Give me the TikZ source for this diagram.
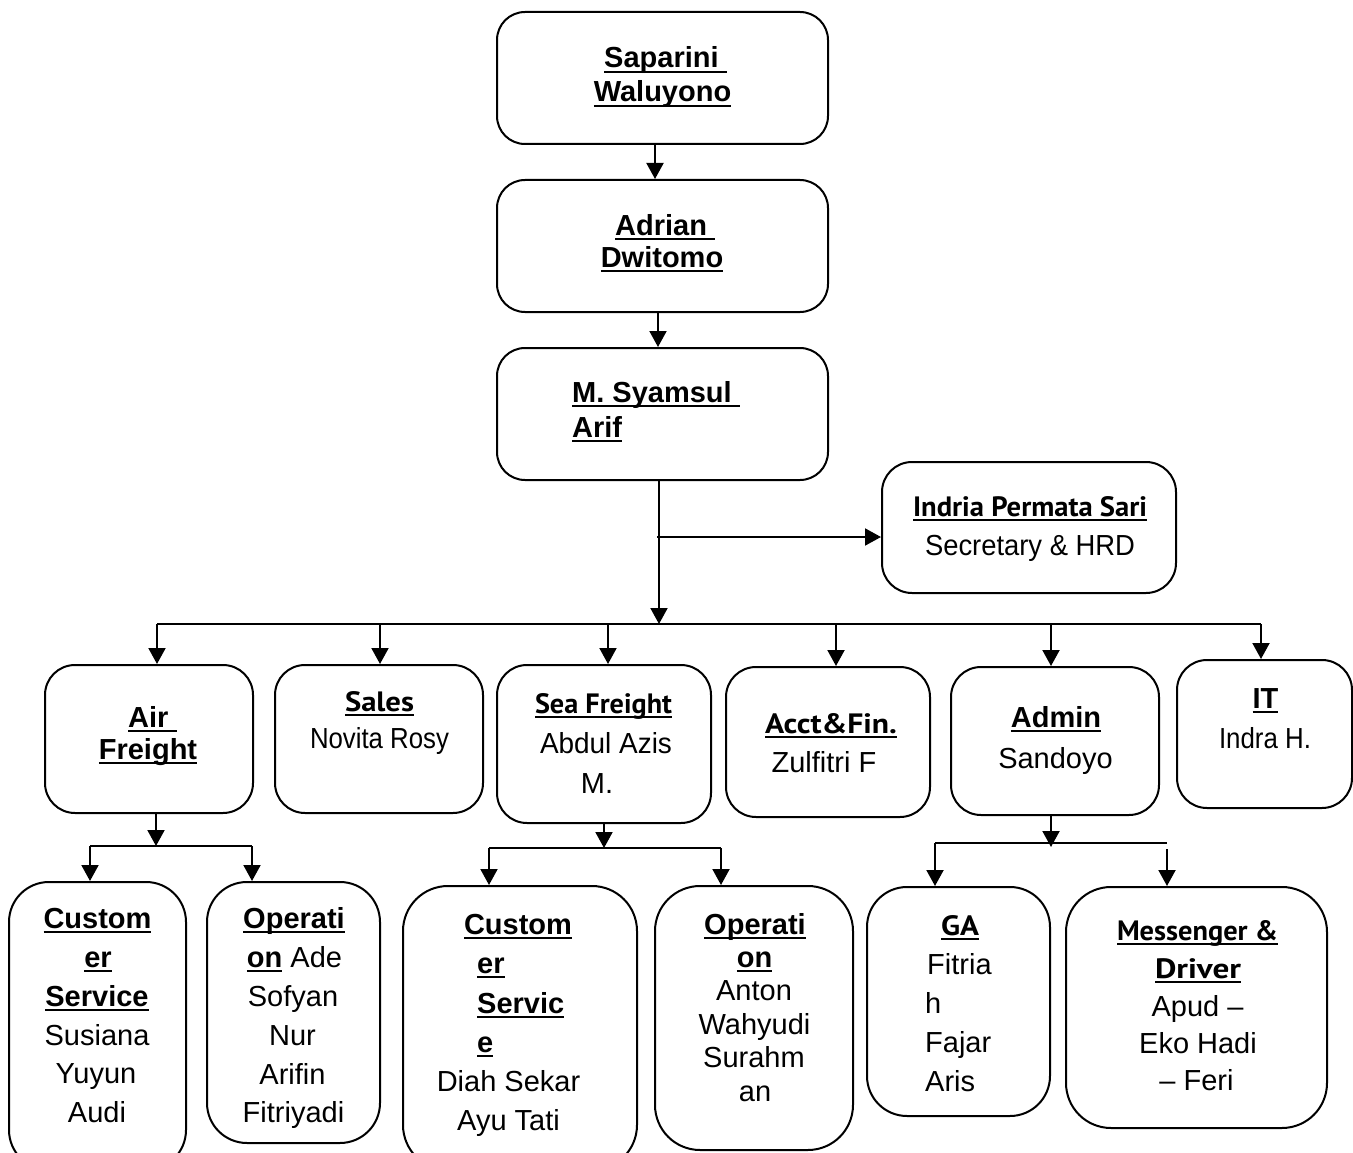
\documentclass[tikz,border=0pt]{standalone}
\usepackage{fontspec}
\usepackage{graphicx}
\setmainfont{Liberation Sans}
\newfontfamily\ptsans{PT Sans}
\usetikzlibrary{arrows.meta,calc}
\newsavebox\ulbox
\newsavebox\fitbox
\newcommand\myul[1]{\sbox\ulbox{#1}\rlap{\rule[-5.4pt]{\wd\ulbox}{2.8pt}}\usebox\ulbox}
\newcommand\fitto[2]{\sbox\fitbox{#2}\pgfmathsetmacro\fitsc{#1/\the\wd\fitbox}\scalebox{\fitsc}[1]{\usebox\fitbox}}
\newcommand\hdfont{\fontsize{28}{32}\selectfont\ptsans\bfseries}
\newcommand\tline[5]{\node[tx,anchor=#2] (#1) at (#3,#4) {#5};}
\tikzset{
  bx/.style={draw=black, line width=2pt, inner sep=0pt, fill=white},
  tx/.style={inner sep=0pt, font=\fontsize{29}{34}\selectfont},
  arr/.style={line width=2pt, -{Triangle[length=16pt,width=17pt]}},
  ln/.style={line width=2pt}
}
\begin{document}
\begin{tikzpicture}[x=1pt,y=-1pt]
\useasboundingbox (0,0) rectangle (1353,1153);
\clip (0,0) rectangle (1353,1153);
\fill[white] (0,0) rectangle (1353,1153);
% boxes
\node[bx, rounded corners=28pt, minimum width=331pt, minimum height=132pt] (b1) at (662.5,78) {};
\node[bx, rounded corners=28pt, minimum width=331pt, minimum height=132pt] (b2) at (662.5,246) {};
\node[bx, rounded corners=28pt, minimum width=331pt, minimum height=132pt] (b3) at (662.5,414) {};
\node[bx, rounded corners=30pt, minimum width=294pt, minimum height=131pt] (sec) at (1029,527.5) {};
\node[bx, rounded corners=30pt, minimum width=208pt, minimum height=148pt] (air) at (149,739) {};
\node[bx, rounded corners=30pt, minimum width=208pt, minimum height=148pt] (sal) at (379,739) {};
\node[bx, rounded corners=30pt, minimum width=214pt, minimum height=158pt] (sea) at (604,744) {};
\node[bx, rounded corners=30pt, minimum width=204pt, minimum height=150pt] (acc) at (828,742) {};
\node[bx, rounded corners=30pt, minimum width=208pt, minimum height=148pt] (adm) at (1055,741) {};
\node[bx, rounded corners=30pt, minimum width=175pt, minimum height=148pt] (it) at (1264.5,734) {};
\node[bx, rounded corners=40pt, minimum width=177pt, minimum height=288pt] (cs1) at (97.5,1026) {};
\node[bx, rounded corners=40pt, minimum width=173pt, minimum height=261pt] (op1) at (293.5,1012.5) {};
\node[bx, rounded corners=45pt, minimum width=234pt, minimum height=284pt] (cs2) at (520,1028) {};
\node[bx, rounded corners=45pt, minimum width=198pt, minimum height=264pt] (op2) at (754,1018) {};
\node[bx, rounded corners=40pt, minimum width=183pt, minimum height=229pt] (ga) at (958.5,1001.5) {};
\node[bx, rounded corners=45pt, minimum width=261pt, minimum height=241pt] (msg) at (1196.5,1007.5) {};
% connector coordinates
\coordinate (x12) at (655,0);
\coordinate (x23) at (658,0);
\coordinate (xm) at (659,0);
\coordinate (busC) at (659,624);
\coordinate (brS) at (657,537);
\coordinate (busL) at (157,624);
\coordinate (busR) at (1261,624);
\coordinate (dAir) at (157,624);
\coordinate (dSal) at (380,624);
\coordinate (dSea) at (608,624);
\coordinate (dAcc) at (836,624);
\coordinate (dAdm) at (1051,624);
\coordinate (dIt) at (1261,624);
\coordinate (sbA) at (156,846);
\coordinate (sbAL) at (90,846);
\coordinate (sbAR) at (252,846);
\coordinate (sbS) at (604,848);
\coordinate (sbSL) at (489,848);
\coordinate (sbSR) at (721,848);
\coordinate (sbD) at (1051,847);
\coordinate (sbDL) at (935,843);
\coordinate (sbDR) at (1167,843);
\coordinate (sbDR2) at (1167,849);
% connectors
\draw[arr] (b1.south -| x12) -- (b2.north -| x12);
\draw[arr] (b2.south -| x23) -- (b3.north -| x23);
\draw[arr] (b3.south -| xm) -- (busC);
\draw[arr] (brS) -- (brS -| sec.west);
\draw[ln] (busL) -- (busR);
\draw[arr] (dAir) -- (dAir |- air.north);
\draw[arr] (dSal) -- (dSal |- sal.north);
\draw[arr] (dSea) -- (dSea |- sea.north);
\draw[arr] (dAcc) -- (dAcc |- acc.north);
\draw[arr] (dAdm) -- (dAdm |- adm.north);
\draw[arr] (dIt) -- (dIt |- it.north);
\draw[arr] (air.south -| sbA) -- (sbA);
\draw[ln] (sbAL) -- (sbAR);
\draw[arr] (sbAL) -- (sbAL |- cs1.north);
\draw[arr] (sbAR) -- (sbAR |- op1.north);
\draw[arr] (sea.south -| sbS) -- (sbS);
\draw[ln] (sbSL) -- (sbSR);
\draw[arr] (sbSL) -- (sbSL |- cs2.north);
\draw[arr] (sbSR) -- (sbSR |- op2.north);
\draw[arr] (adm.south -| sbD) -- (sbD);
\draw[ln] (sbDL) -- (sbDR);
\draw[arr] (sbDL) -- (sbDL |- ga.north);
\draw[arr] (sbDR2) -- (sbDR2 |- msg.north);
% texts: top
\tline{t1a}{base west}{604}{68}{\myul{\bfseries Saparini\ }}
\tline{t1b}{base}{662.5}{102}{\myul{\bfseries Waluyono}}
\tline{t2a}{base west}{615}{235}{\myul{\bfseries Adrian\ }}
\tline{t2b}{base}{662}{267}{\myul{\bfseries Dwitomo}}
\tline{t3a}{base west}{572}{402}{\myul{\bfseries M. Syamsul\ }}
\tline{t3b}{base west}{572}{437}{\myul{\bfseries Arif}}
\tline{s1}{base}{1030}{516}{\fitto{234}{\myul{\hdfont Indria Permata Sari}}}
\tline{s2}{base}{1030}{555}{\fitto{210}{Secretary \& HRD}}
% middle row
\tline{a1}{base west}{128}{727}{\myul{\bfseries Air\ }}
\tline{a2}{base}{148}{759}{\myul{\bfseries Freight}}
\tline{l1}{base}{379.5}{711}{\fitto{69}{\myul{\hdfont Sales}}}
\tline{l2}{base}{379.5}{748}{\fitto{139}{Novita Rosy}}
\tline{e1}{base}{603.5}{713}{\fitto{137}{\myul{\hdfont Sea Freight}}}
\tline{e2}{base}{606}{753}{\fitto{132}{Abdul Azis}}
\tline{e3}{base}{597}{793}{M.}
\tline{c1}{base}{831}{733}{\fitto{132}{\myul{\hdfont Acct\&Fin.}}}
\tline{c2}{base}{824}{772}{Zulfitri F}
\tline{d1}{base}{1056}{727}{\myul{\bfseries Admin}}
\tline{d2}{base}{1055.5}{768}{Sandoyo}
\tline{i1}{base}{1265.5}{708}{\myul{\bfseries IT}}
\tline{i2}{base}{1265}{748}{\fitto{92}{Indra H.}}
% bottom row
\tline{p1}{base}{97.5}{928}{\myul{\bfseries Custom}}
\tline{p2}{base}{98}{967}{\myul{\bfseries er}}
\tline{p3}{base}{97}{1006}{\myul{\bfseries Service}}
\tline{p4}{base}{97}{1045}{Susiana}
\tline{p5}{base}{96}{1083}{Yuyun}
\tline{p6}{base}{97}{1122}{Audi}
\tline{q1}{base}{294}{928}{\myul{\bfseries Operati}}
\tline{q2}{base}{294.5}{967}{\myul{\bfseries on} Ade}
\tline{q3}{base}{293}{1006}{Sofyan}
\tline{q4}{base}{292.5}{1045}{Nur}
\tline{q5}{base}{292.5}{1084}{Arifin}
\tline{q6}{base}{293.5}{1122}{Fitriyadi}
\tline{r1}{base}{518}{934}{\myul{\bfseries Custom}}
\tline{r2}{base west}{477}{973}{\myul{\bfseries er}}
\tline{r3}{base west}{477}{1013}{\myul{\bfseries Servic}}
\tline{r4}{base west}{477}{1052}{\myul{\bfseries e}}
\tline{r5}{base}{508.5}{1091}{Diah Sekar}
\tline{r6}{base}{508.5}{1130}{Ayu Tati}
\tline{o1}{base}{755}{934}{\myul{\bfseries Operati}}
\tline{o2}{base}{754.5}{967}{\myul{\bfseries on}}
\tline{o3}{base}{754}{1000}{Anton}
\tline{o4}{base}{754.5}{1034}{Wahyudi}
\tline{o5}{base}{754}{1067}{Surahm}
\tline{o6}{base}{755}{1101}{an}
\tline{g1}{base}{960}{935}{\fitto{38}{\myul{\hdfont GA}}}
\tline{g2}{base west}{927}{974}{Fitria}
\tline{g3}{base west}{925}{1013}{h}
\tline{g4}{base west}{925}{1052}{Fajar}
\tline{g5}{base west}{925}{1091}{Aris}
\tline{m1}{base}{1197.5}{940}{\fitto{161}{\myul{\hdfont Messenger \&}}}
\tline{m2}{base}{1198}{978}{\fitto{86}{\myul{\hdfont Driver}}}
\tline{m3}{base}{1197.5}{1016}{Apud –}
\tline{m4}{base}{1198}{1053}{Eko Hadi}
\tline{m5}{base}{1196.5}{1090}{– Feri}
\end{tikzpicture}
\end{document}
